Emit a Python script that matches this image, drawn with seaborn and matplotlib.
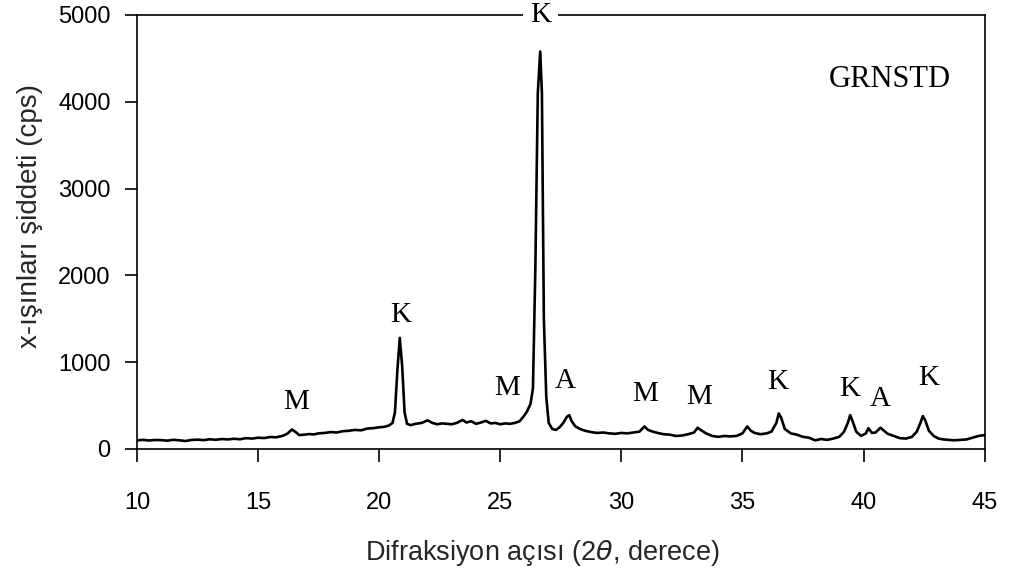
import matplotlib
matplotlib.use("Agg")
import matplotlib.pyplot as plt
import seaborn as sns
import pandas as pd

theta = [10.0, 10.25, 10.5, 10.75, 11.0, 11.25, 11.5, 11.75, 12.0, 12.25, 12.5, 12.75,
         13.0, 13.25, 13.5, 13.75, 14.0, 14.25, 14.5, 14.75, 15.0, 15.25, 15.5, 15.75,
         16.0, 16.2, 16.4, 16.55, 16.7, 16.9, 17.1, 17.3, 17.5, 17.75, 18.0, 18.25,
         18.5, 18.75, 19.0, 19.25, 19.5, 19.75, 20.0, 20.2, 20.4, 20.55, 20.65, 20.75,
         20.85, 20.95, 21.05, 21.15, 21.3, 21.5, 21.75, 22.0, 22.2, 22.4, 22.6, 22.8,
         23.0, 23.2, 23.45, 23.6, 23.8, 24.0, 24.2, 24.4, 24.6, 24.8, 25.0, 25.2,
         25.4, 25.6, 25.8, 25.95, 26.1, 26.25, 26.35, 26.45, 26.55, 26.65, 26.72, 26.8,
         26.9, 27.0, 27.15, 27.3, 27.45, 27.6, 27.75, 27.85, 27.95, 28.1, 28.3, 28.5,
         28.75, 29.0, 29.25, 29.5, 29.75, 30.0, 30.25, 30.5, 30.75, 30.95, 31.1, 31.3,
         31.5, 31.75, 32.0, 32.25, 32.5, 32.75, 33.0, 33.15, 33.3, 33.5, 33.75, 34.0,
         34.25, 34.5, 34.75, 35.0, 35.2, 35.35, 35.5, 35.75, 36.0, 36.2, 36.4, 36.5,
         36.6, 36.75, 37.0, 37.25, 37.5, 37.75, 38.0, 38.25, 38.5, 38.75, 39.0, 39.2,
         39.35, 39.45, 39.55, 39.7, 39.9, 40.1, 40.2, 40.35, 40.5, 40.7, 40.85, 41.0,
         41.25, 41.5, 41.75, 42.0, 42.2, 42.35, 42.45, 42.55, 42.7, 42.9, 43.1, 43.3,
         43.5, 43.75, 44.0, 44.25, 44.5, 44.75, 45.0]
counts = [100, 105, 98, 104, 102, 96, 106, 100, 92, 104, 108, 102,
          112, 106, 115, 110, 118, 112, 125, 120, 130, 126, 138, 135,
          150, 175, 225, 195, 160, 165, 172, 168, 180, 185, 195, 190,
          205, 210, 220, 215, 235, 240, 250, 255, 270, 300, 420, 900,
          1280, 950, 420, 290, 275, 290, 300, 330, 300, 285, 295, 290,
          285, 300, 335, 305, 320, 290, 305, 325, 295, 300, 285, 295,
          290, 300, 320, 370, 430, 520, 700, 2100, 4100, 4580, 4100, 1500,
          600, 300, 230, 220, 250, 300, 370, 390, 320, 260, 230, 210,
          195, 185, 190, 180, 175, 185, 180, 190, 200, 260, 220, 200,
          185, 170, 165, 150, 155, 170, 190, 245, 215, 180, 150, 140,
          150, 145, 150, 180, 260, 210, 185, 170, 180, 200, 300, 410,
          360, 230, 180, 165, 140, 130, 100, 115, 105, 120, 140, 200,
          300, 390, 320, 200, 150, 180, 240, 185, 190, 245, 210, 175,
          150, 125, 120, 140, 200, 300, 380, 330, 210, 150, 120, 110,
          105, 100, 105, 110, 130, 150, 160]

peak_labels = ["M", "K", "M", "K", "A", "M", "M", "K", "K", "A", "K"]
peak_x = [16.55, 20.9, 25.3, 26.67, 27.7, 30.97, 33.2, 36.45, 39.43, 40.67, 42.69]
peak_y = [541, 1544, 703, 5000, 783, 634, 599, 772, 691, 576, 818]

sample_name = "GRNSTD"
x_ticks = [10, 15, 20, 25, 30, 35, 40, 45]
y_ticks = [0, 1000, 2000, 3000, 4000, 5000]
x_label = "Difraksiyon açısı (2$\\theta$, derece)"
y_label = "x-ışınları şiddeti (cps)"

sns.set_style("ticks")
plt.rcParams['font.family'] = ['Liberation Sans', 'DejaVu Sans']
plt.rcParams['mathtext.fontset'] = 'dejavusans'

fig = plt.figure(figsize=(10.09, 5.81), dpi=100)
ax = fig.add_axes([0.1358, 0.2272, 0.8400, 0.7470])

df = pd.DataFrame({"theta": theta, "counts": counts})
sns.lineplot(data=df, x="theta", y="counts", ax=ax, color="black", linewidth=1.9)

ax.set_xlim(10, 45)
ax.set_ylim(0, 5000)
ax.set_xticks(x_ticks)
ax.set_yticks(y_ticks)
ax.set_xticklabels([str(t) for t in x_ticks])
ax.set_yticklabels([str(t) for t in y_ticks])
ax.tick_params(axis='both', direction='out', length=9, width=1.2, colors='black',
               labelsize=17)
ax.tick_params(axis='x', pad=22)
ax.tick_params(axis='y', pad=10)
for s in ax.spines.values():
    s.set_visible(True)
    s.set_color('black')
    s.set_linewidth(1.2)

ax.set_xlabel(x_label, fontsize=19.5)
ax.set_ylabel(y_label, fontsize=20)
ax.xaxis.set_label_coords(0.478, -0.24)
ax.yaxis.set_label_coords(-0.126, 0.537)
ax.xaxis.label.set_verticalalignment('center')
ax.yaxis.label.set_verticalalignment('center')

for lab, px, py in zip(peak_labels, peak_x, peak_y):
    kw = {}
    if py >= 5000:
        kw['bbox'] = dict(facecolor='white', edgecolor='none', pad=5)
    ax.text(px, py, lab, family='Liberation Serif', fontsize=21, ha='center',
            va='center', color='black', clip_on=False, zorder=5, **kw)

ax.text(41.08, 4262, sample_name, family='Liberation Serif', fontsize=22,
        ha='center', va='center', color='black')

fig.savefig("out.png", dpi=100)
